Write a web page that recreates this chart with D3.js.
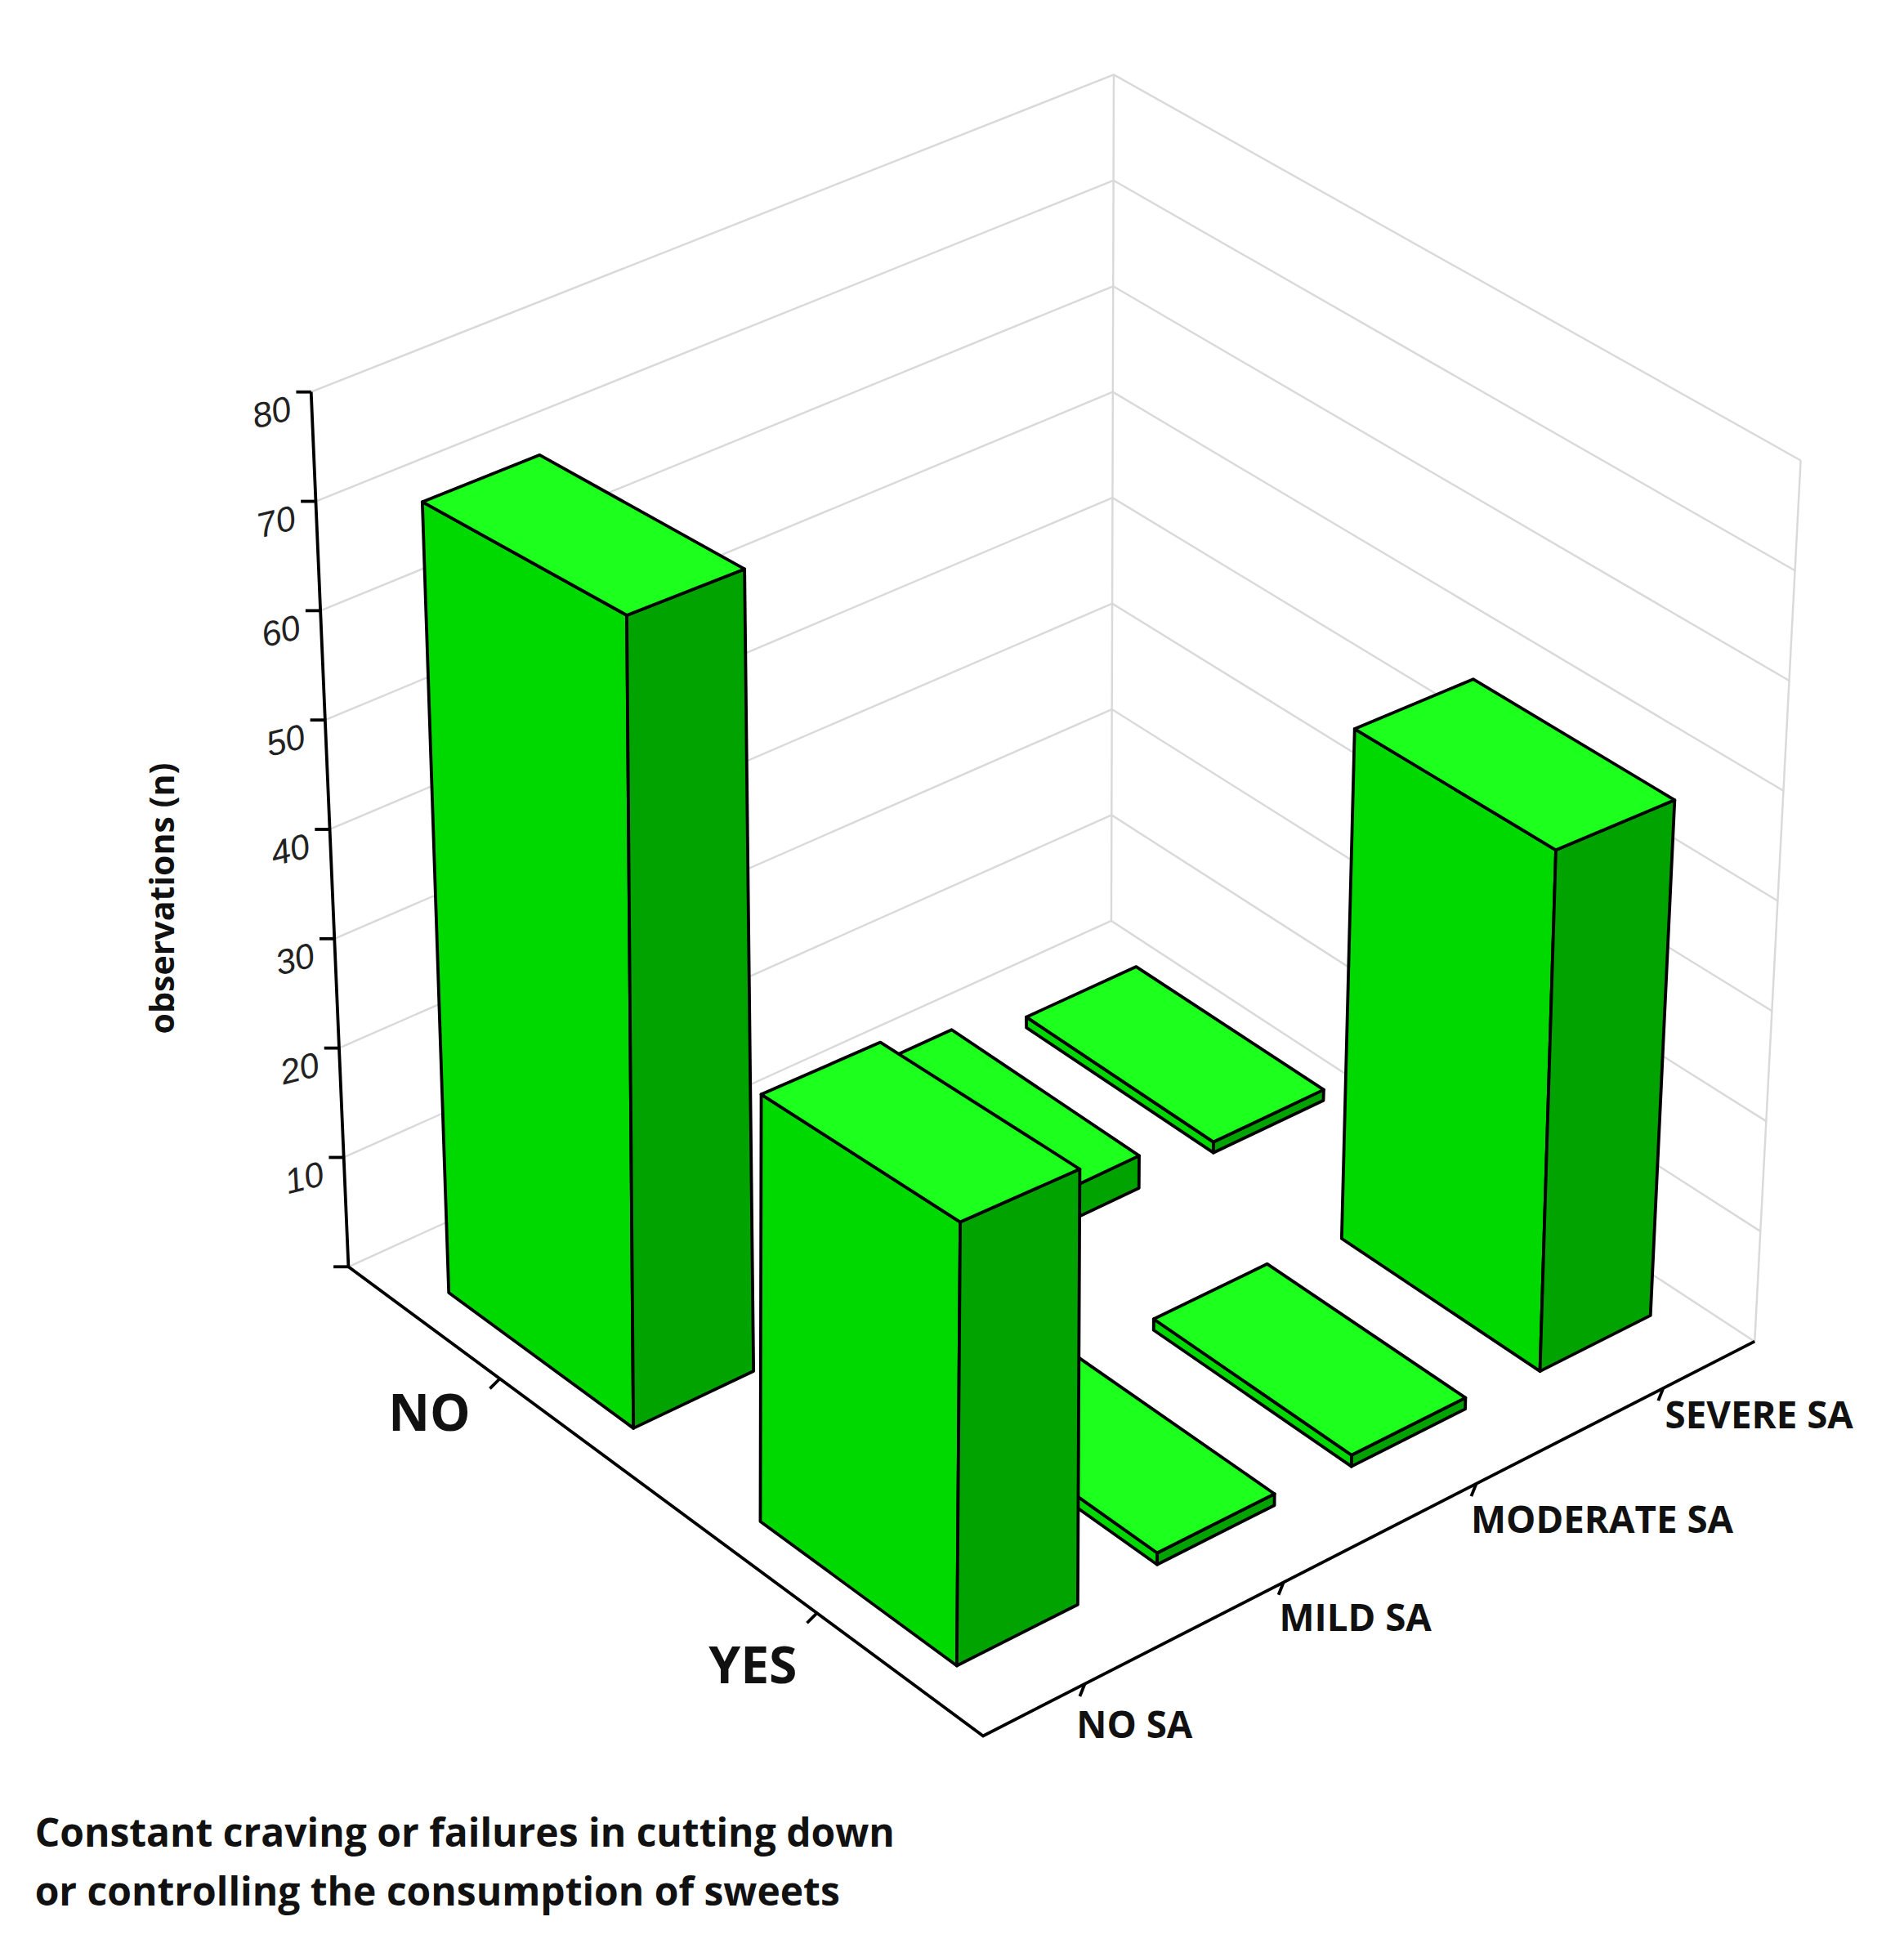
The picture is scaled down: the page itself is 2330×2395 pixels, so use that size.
<!DOCTYPE html>
<html>
<head>
<meta charset="utf-8">
<script src="https://cdn.jsdelivr.net/npm/d3@7"></script>
<style>
  body { margin: 0; background: #fff; }
  svg { display: block; }
</style>
</head>
<body>
<svg id="chart" width="2330" height="2395"></svg>
<script>
// data
var rowCats = ["NO", "YES"];
var colCats = ["NO SA", "MILD SA", "MODERATE SA", "SEVERE SA"];
var noRow  = [72, 0, 3, 1];
var yesRow = [37, 1, 1, 47];
var zTicks = [10, 20, 30, 40, 50, 60, 70, 80];
var caption = ["Constant craving or failures in cutting down",
               "or controlling the consumption of sweets"];

var K = 2330 / 1530;   // drawn in reference units, scaled up

// corners of floor (z=0) and top plane (z=80): L, F, R, B
var floor = [[280, 1018], [790, 1395], [1410, 1078], [893, 740]];
var roof  = [[250, 315], [797, 608], [1447, 370], [895, 60]];

function homography(q) {
  var x0 = q[0][0], y0 = q[0][1], x1 = q[1][0], y1 = q[1][1],
      x2 = q[2][0], y2 = q[2][1], x3 = q[3][0], y3 = q[3][1];
  var dx1 = x1 - x2, dx2 = x3 - x2, dx3 = x0 - x1 + x2 - x3;
  var dy1 = y1 - y2, dy2 = y3 - y2, dy3 = y0 - y1 + y2 - y3;
  var den = dx1 * dy2 - dx2 * dy1;
  var g = (dx3 * dy2 - dx2 * dy3) / den;
  var h = (dx1 * dy3 - dx3 * dy1) / den;
  var a = x1 - x0 + g * x1, b = x3 - x0 + h * x3, c = x0;
  var d = y1 - y0 + g * y1, e = y3 - y0 + h * y3, f = y0;
  return function(u, v) {
    var w = g * u + h * v + 1;
    return [(a * u + b * v + c) / w, (d * u + e * v + f) / w];
  };
}
var H0 = homography(floor), H1 = homography(roof);

var sScale = d3.scaleLinear().domain([0, rowCats.length]).range([0, 1]);
var tScale = d3.scaleLinear().domain([0, colCats.length]).range([0, 1]);
var zScale = d3.scaleLinear().domain([0, 80]).range([0, 1]);

// r: row position, c: column position, z: value
function P(r, c, z) {
  var s = sScale(r), t = tScale(c), k = zScale(z);
  var a = H0(s, t), b = H1(s, t);
  return [a[0] + (b[0] - a[0]) * k, a[1] + (b[1] - a[1]) * k];
}

var svg = d3.select("#chart");
var g = svg.append("g").attr("transform", "scale(" + K + ")");
var line = d3.line();
var nR = rowCats.length, nC = colCats.length;

// walls and grid
var grid = g.append("g").attr("stroke", "#d9d9d9").attr("stroke-width", 1.6).attr("fill", "none");
[0].concat(zTicks).forEach(function(z) {
  grid.append("path").attr("d", line([P(0, 0, z), P(0, nC, z), P(nR, nC, z)]));
});
grid.append("path").attr("d", line([P(0, nC, 0), P(0, nC, 80)]));
grid.append("path").attr("d", line([P(nR, nC, 0), P(nR, nC, 80)]));

// axes
var ax = g.append("g").attr("stroke", "#000").attr("stroke-width", 2.5).attr("fill", "none");
ax.append("path").attr("d", line([P(0, 0, 80), P(0, 0, 0), P(nR, 0, 0), P(nR, nC, 0)]));
[0].concat(zTicks).forEach(function(z) {
  var p = P(0, 0, z);
  ax.append("path").attr("d", line([p, [p[0] - 12, p[1]]]));
});
zTicks.forEach(function(z) {
  var p = P(0, 0, z);
  g.append("text").attr("x", p[0] - 32).attr("y", p[1] + 26)
    .attr("text-anchor", "middle").attr("font-family", "Liberation Sans, Arial")
    .attr("font-style", "italic").attr("font-size", 28).attr("fill", "#222")
    .attr("transform", "rotate(-14," + (p[0] - 32) + "," + (p[1] + 16) + ")")
    .text(z);
});
rowCats.forEach(function(d, i) {
  var p = P(i + 0.5, 0, 0);
  ax.append("path").attr("d", line([p, [p[0] - 8, p[1] + 8]]));
});
colCats.forEach(function(d, j) {
  var p = P(nR, j + 0.5, 0);
  ax.append("path").attr("d", line([p, [p[0] - 4, p[1] + 10]]));
});

// labels
var font = "'Open Sans', 'Noto Sans', sans-serif";
g.append("text").attr("transform", "translate(140,722) rotate(-90)")
  .attr("text-anchor", "middle").attr("font-family", font).attr("font-weight", "bold")
  .attr("font-size", 27).attr("fill", "#111").text("observations (n)");
var rowPos = [[345, 1150], [605, 1353]];
rowCats.forEach(function(d, i) {
  g.append("text").attr("x", rowPos[i][0]).attr("y", rowPos[i][1])
    .attr("text-anchor", "middle").attr("font-family", font).attr("font-weight", "bold")
    .attr("font-size", 41).attr("fill", "#111").text(d);
});
var colPos = [[865, 1397], [1028, 1311], [1182, 1232], [1338, 1148]];
colCats.forEach(function(d, j) {
  g.append("text").attr("x", colPos[j][0]).attr("y", colPos[j][1])
    .attr("font-family", font).attr("font-weight", "bold")
    .attr("font-size", 30).attr("fill", "#111").text(d);
});
caption.forEach(function(t, i) {
  g.append("text").attr("x", 28).attr("y", 1484 + i * 47)
    .attr("font-family", font).attr("font-weight", "bold")
    .attr("font-size", 31.5).attr("fill", "#111").text(t);
});

// bars, back to front
var bars = [];
[noRow, yesRow].forEach(function(vals, i) {
  vals.forEach(function(v, j) { if (v > 0) bars.push({ r: i, c: j, v: v }); });
});
bars.sort(function(a, b) { return (a.r - a.c) - (b.r - b.c); });

var lo = 0.2, hi = 0.8;
var bg = g.append("g").attr("stroke", "#000").attr("stroke-width", 2.5).attr("stroke-linejoin", "round");
bars.forEach(function(b) {
  var r0 = b.r + lo, r1 = b.r + hi, c0 = b.c + lo, c1 = b.c + hi, z = b.v;
  // left face (constant c0)
  bg.append("path").attr("fill", "#00d900")
    .attr("d", line([P(r0, c0, 0), P(r1, c0, 0), P(r1, c0, z), P(r0, c0, z)]) + "Z");
  // right face (constant r1)
  bg.append("path").attr("fill", "#00a300")
    .attr("d", line([P(r1, c0, 0), P(r1, c1, 0), P(r1, c1, z), P(r1, c0, z)]) + "Z");
  // top
  bg.append("path").attr("fill", "#1dff1d")
    .attr("d", line([P(r0, c0, z), P(r1, c0, z), P(r1, c1, z), P(r0, c1, z)]) + "Z");
});
</script>
</body>
</html>
